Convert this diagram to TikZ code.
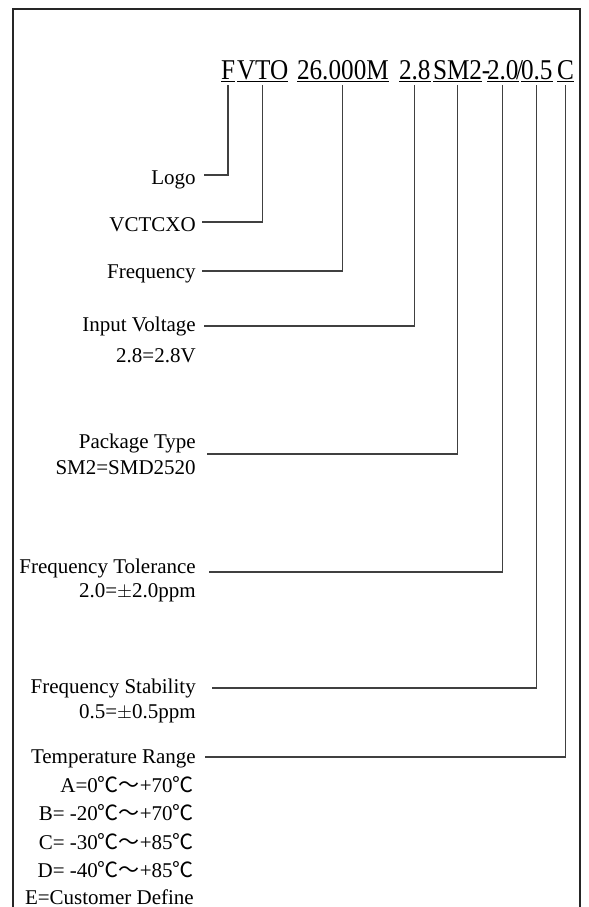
\documentclass[tikz,border=0pt]{standalone}
\usepackage{fontspec}
\setmainfont{Liberation Serif}
\newfontfamily\cjk{Noto Sans CJK SC}
\newfontfamily\codefont[FakeStretch=0.88]{Liberation Serif}
\newcommand{\dgc}{{\cjk ℃}}
\newcommand{\wave}{{\cjk ～}}

\begin{document}
\begin{tikzpicture}[x=0.75pt, y=-0.75pt,
    every node/.style={inner sep=0pt},
    code/.style={font=\codefont\fontsize{21.5}{24}\selectfont, anchor=base west,
                outer xsep=0pt, outer ysep=2.5pt},
    sep/.style={font=\codefont\fontsize{21.5}{24}\selectfont, anchor=base},
    lbl/.style={font=\fontsize{15.75}{18}\selectfont, anchor=base east},
    conn/.style={draw=black!75, line width=0.8pt},
    frame/.style={draw=black!85, line width=1.3pt},
  ]

  \useasboundingbox (0,0) rectangle (589,907);

  % === Frame ===
  \draw[frame] (13,910) -- (13,9) -- (580,9) -- (580,910);

  % === Part number ===
  \node[code] (cF)   at (221,79) {\underline{F}};
  \node[code] (cVTO) at (237,79) {\underline{VTO}};
  \node[code] (cFrq) at (297,79) {\underline{26.000M}};
  \node[code] (cV)   at (399,79) {\underline{2.8}};
  \node[code] (cPkg) at (433,79) {\underline{SM2}};
  \node[sep]  (dsh)  at (486,79) {-};
  \node[code] (cTol) at (487,79) {\underline{2.0}};
  \node[sep]  (sls)  at (519.5,79) {/};
  \node[code] (cStb) at (521,79) {\underline{0.5}};
  \node[code] (cT)   at (557,79) {\underline{C}};

  % === Labels ===
  \node[lbl] (logo) at (196,184) {Logo};
  \node[lbl] (vco)  at (196,231) {VCTCXO};
  \node[lbl] (frq)  at (196,278) {Frequency};
  \node[lbl] (vin)  at (196,331) {Input Voltage};
  \node[lbl] (vin2) at (196,362) {2.8=2.8V};
  \node[lbl] (pkg)  at (196,448) {Package Type};
  \node[lbl] (pkg2) at (196,474) {SM2=SMD2520};
  \node[lbl] (tol)  at (196,573) {Frequency Tolerance};
  \node[lbl] (tol2) at (196,597) {2.0=$\pm$2.0ppm};
  \node[lbl] (stb)  at (196,693) {Frequency Stability};
  \node[lbl] (stb2) at (196,718) {0.5=$\pm$0.5ppm};
  \node[lbl] (tmp)  at (196,763) {Temperature Range};
  \node[lbl] (tmpA) at (194,792) {A=0\dgc\wave+70\dgc};
  \node[lbl] (tmpB) at (194,820) {B= -20\dgc\wave+70\dgc};
  \node[lbl] (tmpC) at (194,849) {C= -30\dgc\wave+85\dgc};
  \node[lbl] (tmpD) at (194,877) {D= -40\dgc\wave+85\dgc};
  \node[lbl] (tmpE) at (194,904) {E=Customer Define};

  % === Line ends next to the labels ===
  \coordinate (logo-e) at (204,175);
  \coordinate (vco-e)  at (202,222);
  \coordinate (frq-e)  at (202,271);
  \coordinate (vin-e)  at (204,326);
  \coordinate (pkg-e)  at (207,454);
  \coordinate (tol-e)  at (209,572);
  \coordinate (stb-e)  at (212,688);
  \coordinate (tmp-e)  at (205,757);

  % === Connectors ===
  \draw[conn] (cF)   |- (logo-e);
  \draw[conn] (cVTO) |- (vco-e);
  \draw[conn] (cFrq) |- (frq-e);
  \draw[conn] (cV)   |- (vin-e);
  \draw[conn] (cPkg) |- (pkg-e);
  \draw[conn] (cTol) |- (tol-e);
  \draw[conn] (cStb) |- (stb-e);
  \draw[conn] (cT)   |- (tmp-e);

\end{tikzpicture}
\end{document}
